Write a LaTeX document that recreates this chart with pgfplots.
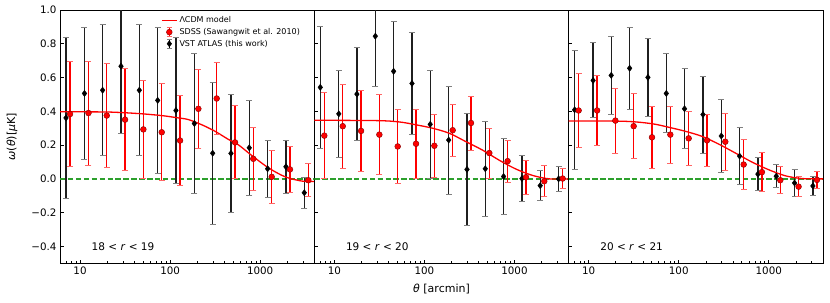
\documentclass[border=0pt]{standalone}
\usepackage{pgfplots}
\usepackage{pgfplotstable}
\pgfplotsset{compat=1.18}
\usepgfplotslibrary{groupplots}
\usetikzlibrary{calc}
\usepackage{fontspec}
\setmainfont{DejaVu Sans}

\definecolor{tabgreen}{RGB}{44,160,44}

\pgfplotstableread{
x y e
6.98 0.361 0.478
11.2 0.506 0.389
17.8 0.525 0.388
28.5 0.667 0.400
45.5 0.525 0.389
72.8 0.465 0.430
116 0.405 0.435
186 0.328 0.413
297 0.152 0.420
474 0.151 0.348
757 0.184 0.283
1210 0.060 0.170
1932 0.072 0.156
3090 -0.082 0.092
}\blackA
\pgfplotstableread{
x y e
7.74 0.384 0.310
12.4 0.390 0.308
19.8 0.375 0.306
31.6 0.351 0.300
50.5 0.293 0.290
80.7 0.276 0.288
129 0.227 0.268
206 0.415 0.235
329 0.476 0.215
526 0.216 0.216
839 0.119 0.185
1343 0.012 0.155
2143 0.056 0.135
3428 -0.008 0.098
}\redA
\pgfplotstableread{
x y e
6.98 0.542 0.363
11.2 0.385 0.260
17.8 0.502 0.276
28.5 0.845 0.300
45.5 0.637 0.295
72.8 0.565 0.303
116 0.323 0.320
186 0.230 0.320
297 0.056 0.330
474 0.060 0.280
757 0.014 0.226
1210 0.002 0.137
1932 -0.040 0.089
3090 0.000 0.074
}\blackB
\pgfplotstableread{
x y e
7.74 0.256 0.254
12.4 0.312 0.249
19.8 0.284 0.242
31.6 0.262 0.237
50.5 0.192 0.222
80.7 0.208 0.205
129 0.196 0.185
206 0.288 0.153
329 0.331 0.160
526 0.153 0.148
839 0.105 0.124
1343 0.010 0.102
2143 -0.014 0.091
3428 0.002 0.060
}\redB
\pgfplotstableread{
x y e
6.98 0.409 0.353
11.2 0.583 0.222
17.8 0.613 0.233
28.5 0.655 0.241
45.5 0.601 0.231
72.8 0.506 0.234
116 0.415 0.237
186 0.381 0.228
297 0.254 0.215
474 0.135 0.170
757 0.028 0.099
1210 0.016 0.068
1932 -0.024 0.080
3090 -0.042 0.058
}\blackC
\pgfplotstableread{
x y e
7.74 0.405 0.217
12.4 0.405 0.206
19.8 0.345 0.193
31.6 0.312 0.192
50.5 0.246 0.183
80.7 0.262 0.168
129 0.240 0.161
206 0.228 0.154
329 0.220 0.169
526 0.085 0.149
839 0.040 0.116
1343 -0.008 0.081
2143 -0.046 0.060
3428 -0.006 0.050
}\redC

\pgfplotsset{
  blackpts/.style={only marks, mark=diamond*, mark size=3.1pt, black, forget plot,
    error bars/.cd, y dir=both, y explicit,
    error bar style={line width=1.35pt, black!88},
    error mark options={rotate=90, mark size=3pt, line width=0.9pt, black!50}},
  redpts/.style={only marks, mark=*, mark size=2.9pt, red, forget plot,
    mark options={fill=red, draw=red!55!black, line width=0.45pt},
    error bars/.cd, y dir=both, y explicit,
    error bar style={line width=1.2pt, red},
    error mark options={rotate=90, mark size=3pt, line width=0.9pt, red!60}},
  modelline/.style={red, line width=1.3pt, smooth, no marks, forget plot},
  zeroline/.style={color=tabgreen, line width=1.3pt,
    dash pattern=on 5.5pt off 2.4pt, no marks, forget plot},
}

\begin{document}
\begin{tikzpicture}
\begin{groupplot}[
  group style={group size=3 by 1, horizontal sep=0pt},
  xmode=log, scale only axis, width=254pt, height=253pt,
  xmin=6, xmax=4000, ymin=-0.5, ymax=1.0,
  xtick={10,100,1000}, xticklabels={10,100,1000},
  minor xtick={6,7,8,9,20,30,40,50,60,70,80,90,200,300,400,500,600,700,800,900,2000,3000},
  ytick={-0.4,-0.2,0,0.2,0.4,0.6,0.8,1.0},
  tick align=inside, xtick pos=bottom, ytick pos=left,
  major tick length=3.5pt, minor tick length=2pt,
  tick style={black, line width=0.6pt},
  axis line style={line width=0.8pt},
  ticklabel style={font=\fontsize{10.3}{12}\selectfont},
  label style={font=\fontsize{11}{13}\selectfont},
]
\nextgroupplot[
  yticklabels={−0.4,−0.2,0.0,0.2,0.4,0.6,0.8,1.0},
  ylabel={\textit{ω}(\textit{θ})[\textit{μ}K]},
  ylabel style={at={(axis description cs:-0.189,0.5)}, anchor=center},
  legend style={at={(rel axis cs:0.385,0.99)}, anchor=north west, draw=none, fill=none,
    font=\fontsize{8}{9.5}\selectfont, legend cell align=left, row sep=0pt},
]
\coordinate (bl) at (rel axis cs:0,0);
\addplot[zeroline] coordinates {(6,0) (4000,0)};
\addplot[blackpts] table[x=x, y=y, y error=e] {\blackA};
\addplot[modelline] coordinates {(6,0.397) (20,0.396) (44,0.387) (80,0.375) (120,0.362) (160,0.351) (230,0.318) (315,0.282) (440,0.235) (572,0.202) (800,0.14) (1240,0.065) (1900,0.012) (2900,-0.013) (4000,-0.016)};
\addplot[redpts] table[x=x, y=y, y error=e] {\redA};
\node[font=\fontsize{10.5}{12}\selectfont] at (axis cs:30,-0.4) {18 < \textit{r} < 19};
\addlegendimage{legend image code/.code={\draw[red, line width=1.3pt] (0pt,0pt) -- (15pt,0pt);}}
\addlegendentry{ΛCDM model}
\addlegendimage{legend image code/.code={
  \draw[red, line width=1.1pt] (7.5pt,-4.5pt) -- (7.5pt,4.5pt);
  \draw[red!60, line width=0.8pt] (5pt,-4.5pt) -- (10pt,-4.5pt) (5pt,4.5pt) -- (10pt,4.5pt);
  \filldraw[fill=red, draw=red!55!black, line width=0.45pt] (7.5pt,0pt) circle (2.9pt);}}
\addlegendentry{SDSS (Sawangwit et al. 2010)}
\addlegendimage{legend image code/.code={
  \draw[black, line width=1.3pt] (7.5pt,-4.5pt) -- (7.5pt,4.5pt);
  \draw[black!50, line width=0.8pt] (5pt,-4.5pt) -- (10pt,-4.5pt) (5pt,4.5pt) -- (10pt,4.5pt);
  \fill[black] (7.5pt,3.1pt) -- (9.8pt,0pt) -- (7.5pt,-3.1pt) -- (5.2pt,0pt) -- cycle;}}
\addlegendentry{VST ATLAS (this work)}

\nextgroupplot[
  yticklabels={},
  xlabel={\textit{θ} [arcmin]},
  xlabel style={at={(axis description cs:0.5,-0.103)}, anchor=center},
]
\addplot[zeroline] coordinates {(6,0) (4000,0)};
\addplot[blackpts] table[x=x, y=y, y error=e] {\blackB};
\addplot[modelline] coordinates {(6,0.347) (30,0.345) (53,0.337) (81,0.32) (123,0.30) (189,0.27) (290,0.22) (443,0.17) (680,0.11) (1040,0.058) (1600,0.02) (2450,0.0) (4000,0.0)};
\addplot[redpts] table[x=x, y=y, y error=e] {\redB};
\node[font=\fontsize{10.5}{12}\selectfont] at (axis cs:30,-0.4) {19 < \textit{r} < 20};

\nextgroupplot[yticklabels={}]
\coordinate (tr) at (rel axis cs:1,1);
\addplot[zeroline] coordinates {(6,0) (4000,0)};
\addplot[blackpts] table[x=x, y=y, y error=e] {\blackC};
\addplot[modelline] coordinates {(6,0.343) (25,0.341) (50,0.327) (77,0.306) (118,0.282) (181,0.252) (278,0.206) (426,0.153) (654,0.099) (1000,0.054) (1535,0.018) (2350,0.002) (4000,0.0)};
\addplot[redpts] table[x=x, y=y, y error=e] {\redC};
\node[font=\fontsize{10.5}{12}\selectfont] at (axis cs:30,-0.4) {20 < \textit{r} < 21};
\end{groupplot}
\pgfresetboundingbox
\path ($(bl)+(-60pt,-39pt)$) rectangle ($(tr)+(7pt,10pt)$);
\end{tikzpicture}
\end{document}
